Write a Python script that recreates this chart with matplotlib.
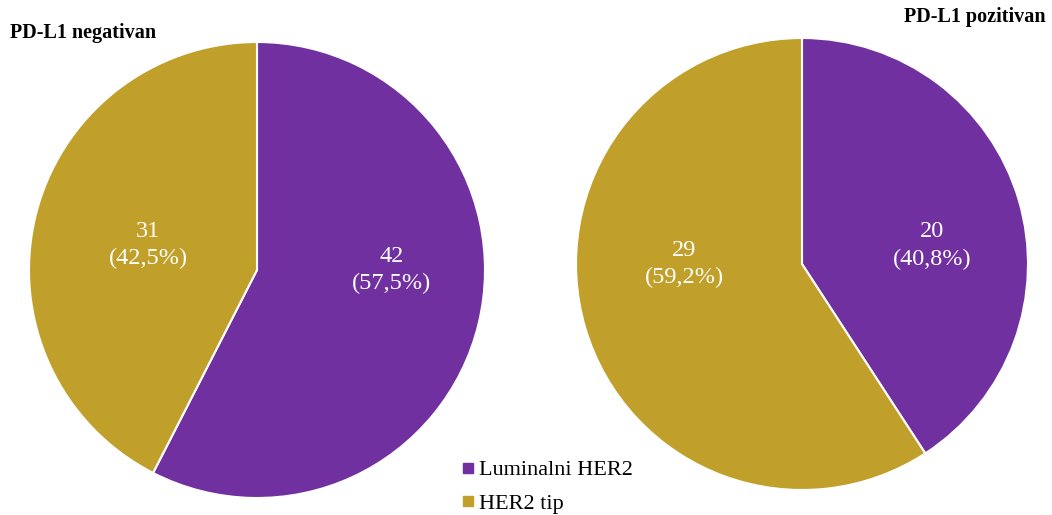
import matplotlib.pyplot as plt
import numpy as np

plt.rcParams['font.family'] = ['Liberation Serif', 'DejaVu Serif']

# --- Data ---
categories = ["Luminalni HER2", "HER2 tip"]
negativan = [42, 31]
pozitivan = [20, 29]
titles = ["PD-L1 negativan", "PD-L1 pozitivan"]
colors = ["#7030A0", "#C0A02A"]

# label placement (angle deg, radius fraction) per wedge, mimics the original layout
label_pos = [[(0, 0.59), (167, 0.49)],
             [(8, 0.58), (180, 0.52)]]

fig = plt.figure(figsize=(10.52, 5.15), dpi=100)
W, H = 1052, 515
# pie boxes in pixels: (left, top, size)
boxes = [(29, 42, 456), (576, 38, 452)]

for k, (vals, box) in enumerate(zip([negativan, pozitivan], boxes)):
    l, t, s = box
    ax = fig.add_axes([l / W, (H - t - s) / H, s / W, s / H])
    total = sum(vals)
    wedges, _, autotexts = ax.pie(
        vals, colors=colors, startangle=90, counterclock=False,
        autopct=lambda p: "", radius=1,
        wedgeprops=dict(edgecolor="white", linewidth=1.5))
    for i, (txt, v) in enumerate(zip(autotexts, vals)):
        ang, r = label_pos[k][i]
        pct = f"{100 * v / total:.1f}".replace(".", ",")
        txt.set_text(f"{v}\n({pct}%)")
        txt.set_position((r * np.cos(np.radians(ang)), r * np.sin(np.radians(ang))))
        txt.set_color("white")
        txt.set_fontsize(17.5)
        txt.set_ha("center")
        txt.set_va("center")
        txt.set_linespacing(1.4)
    ax.set_xlim(-1, 1)
    ax.set_ylim(-1, 1)
    ax.set_aspect("auto")
    ax.axis("off")

fig.text(10 / W, 1 - 33 / H, titles[0], fontsize=14.5, fontweight="bold", ha="left", va="center")
fig.text(1046 / W, 1 - 17 / H, titles[1], fontsize=14.5, fontweight="bold", ha="right", va="center")

handles = [plt.Line2D([], [], marker="s", linestyle="", markersize=7,
                      markerfacecolor=c, markeredgecolor=c) for c in colors]
fig.legend(handles, categories, loc="center left", bbox_to_anchor=(448 / W, 1 - 487 / H),
           frameon=False, fontsize=16, handletextpad=0.0, handlelength=1.0,
           labelspacing=0.6, borderaxespad=0)

fig.savefig("out.png", dpi=100, facecolor="white")
